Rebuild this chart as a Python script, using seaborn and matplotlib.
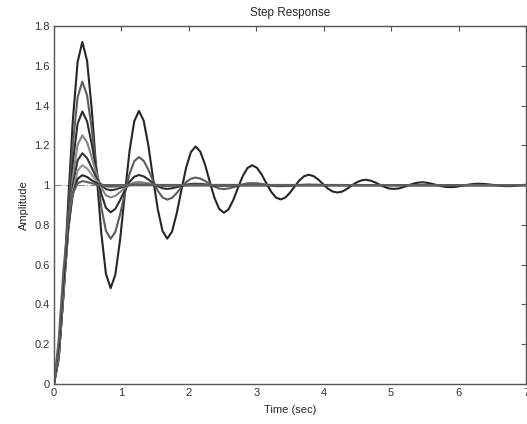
import numpy as np
import pandas as pd
import seaborn as sns
import matplotlib
matplotlib.use("Agg")
import matplotlib.pyplot as plt

# sample times (sec)
time_s = [0.00, 0.07, 0.14, 0.21, 0.28, 0.35, 0.42, 0.49, 0.56, 0.63,
          0.70, 0.77, 0.84, 0.91, 0.98, 1.05, 1.12, 1.19, 1.26, 1.33,
          1.40, 1.47, 1.54, 1.61, 1.68, 1.75, 1.82, 1.89, 1.96, 2.03,
          2.10, 2.17, 2.24, 2.31, 2.38, 2.45, 2.52, 2.59, 2.66, 2.73,
          2.80, 2.87, 2.94, 3.01, 3.08, 3.15, 3.22, 3.29, 3.36, 3.43,
          3.50, 3.57, 3.64, 3.71, 3.78, 3.85, 3.92, 3.99, 4.06, 4.13,
          4.20, 4.27, 4.34, 4.41, 4.48, 4.55, 4.62, 4.69, 4.76, 4.83,
          4.90, 4.97, 5.04, 5.11, 5.18, 5.25, 5.32, 5.39, 5.46, 5.53,
          5.60, 5.67, 5.74, 5.81, 5.88, 5.95, 6.02, 6.09, 6.16, 6.23,
          6.30, 6.37, 6.44, 6.51, 6.58, 6.65, 6.72, 6.79, 6.86, 6.93, 7.00]

# amplitude of each response (most oscillatory first)
resp_1 = [0, .131, .470, .911, 1.329, 1.619,
          1.720, 1.626, 1.382, 1.064, .763, .554,
          .482, .550, .725, .954, 1.171, 1.321,
          1.373, 1.324, 1.198, 1.033, .877, .769,
          .731, .766, .858, .976, 1.088, 1.166,
          1.194, 1.168, 1.103, 1.017, .936, .880,
          .861, .879, .926, .988, 1.046, 1.086,
          1.100, 1.087, 1.053, 1.009, .967, .938,
          .928, .937, .962, .994, 1.024, 1.045,
          1.052, 1.045, 1.028, 1.005, .983, .968,
          .963, .967, .980, .997, 1.012, 1.023,
          1.027, 1.023, 1.014, 1.002, .991, .983,
          .981, .983, .990, .998, 1.006, 1.012,
          1.014, 1.012, 1.007, 1.001, .995, .991,
          .990, .991, .995, .999, 1.003, 1.006,
          1.007, 1.006, 1.004, 1.001, .998, .996,
          .995, .995, .997, 1.000, 1.002]
resp_2 = [0, .130, .453, .850, 1.207, 1.442,
          1.520, 1.452, 1.284, 1.078, .892, .770,
          .730, .765, .852, .959, 1.056, 1.120,
          1.141, 1.122, 1.077, 1.021, .971, .938,
          .927, .936, .960, .989, 1.015, 1.032,
          1.038, 1.033, 1.021, 1.006, .992, .983,
          .980, .983, .989, .997, 1.004, 1.009,
          1.010, 1.009, 1.006, 1.002, .998, .995,
          .995, .995, .997, .999, 1.001, 1.002,
          1.003, 1.002, 1.002, 1.000]
resp_3 = [0, .132, .444, .807, 1.116, 1.309,
          1.370, 1.321, 1.206, 1.071, .957, .886,
          .863, .881, .924, .974, 1.016, 1.042,
          1.051, 1.044, 1.028, 1.010, .994, .984,
          .981, .984, .990, .996, 1.002, 1.006,
          1.007, 1.006, 1.004, 1.001, .999, .998,
          .997, .998, .999, 1.000]
resp_4 = [0, .137, .444, .779, 1.047, 1.203,
          1.250, 1.216, 1.139, 1.055, .988, .949,
          .938, .946, .965, .986, 1.003, 1.013,
          1.016, 1.013, 1.009, 1.003, .999, .997,
          .996, .997, .998, .999, 1.000, 1.001, 1.001]
resp_5 = [0, .147, .454, .767, .999, 1.125,
          1.160, 1.136, 1.087, 1.037, 1.000, .980,
          .974, .978, .986, .994, 1.000, 1.003,
          1.004, 1.003, 1.002, 1.001, 1.000, .999, .999]
resp_6 = [0, .160, .473, .768, .971, 1.073,
          1.100, 1.084, 1.053, 1.023, 1.003, .993,
          .990, .992, .995, .998, 1.000, 1.001, 1.001]
resp_7 = [0, .185, .511, .787, .956, 1.032,
          1.050, 1.041, 1.024, 1.011, 1.002, .998,
          .998, .998, .999, .999, 1.000, 1.000]
resp_8 = [0, .224, .572, .824, .957, 1.009,
          1.020, 1.016, 1.009, 1.004, 1.001, 1.000]

responses = [resp_1, resp_2, resp_3, resp_4, resp_5, resp_6, resp_7, resp_8]
line_colors = ['#262626', '#5c5c5c', '#2e2e2e', '#858585',
               '#363636', '#949494', '#2a2a2a', '#606060']

x_ticks = [0, 1, 2, 3, 4, 5, 6, 7]
y_ticks = [0, 0.2, 0.4, 0.6, 0.8, 1, 1.2, 1.4, 1.6, 1.8]
y_tick_labels = ['0', '0.2', '0.4', '0.6', '0.8', '1', '1.2', '1.4', '1.6', '1.8']

# long table; curves that have settled are held at 1 out to the end of the axis
rows = []
for i, vals in enumerate(responses):
    tt = time_s[:len(vals)]
    vv = list(vals)
    if tt[-1] < 7.0:
        tt = tt + [7.0]
        vv = vv + [1.0]
    for t, v in zip(tt, vv):
        rows.append({"time": t, "amp": v, "curve": "c%d" % i})
df = pd.DataFrame(rows)

sns.set_style("white")
plt.rcParams['font.family'] = ['Liberation Sans', 'DejaVu Sans']
plt.rcParams['xtick.direction'] = 'in'
plt.rcParams['ytick.direction'] = 'in'
plt.rcParams['xtick.top'] = True
plt.rcParams['ytick.right'] = True

fig = plt.figure(figsize=(5.27, 4.24), dpi=100)
ax = fig.add_axes([54/527, 40/424, 472/527, 358/424])

ax.axhline(1.0, color='#8a8a8a', lw=0.8, ls='-.', zorder=0)
sns.lineplot(data=df, x="time", y="amp", hue="curve", palette=line_colors,
             estimator=None, errorbar=None, legend=False, linewidth=1.5, ax=ax)

ax.set_xlim(0, 7)
ax.set_ylim(0, 1.8)
ax.set_xticks(x_ticks)
ax.set_xticklabels([str(v) for v in x_ticks])
ax.set_yticks(y_ticks)
ax.set_yticklabels(y_tick_labels)
ax.tick_params(axis='both', labelsize=8, labelcolor='#333333', color='#555555',
               length=3.5, width=0.8, pad=3)

for sp in ax.spines.values():
    sp.set_visible(True)
    sp.set_color('#555555')
    sp.set_linewidth(1.0)

ax.set_title("Step Response", fontsize=8.5, pad=7)
ax.set_xlabel("Time (sec)", fontsize=8, labelpad=5)
ax.set_ylabel("Amplitude", fontsize=8, labelpad=4)

plt.savefig("out.png", dpi=100)
